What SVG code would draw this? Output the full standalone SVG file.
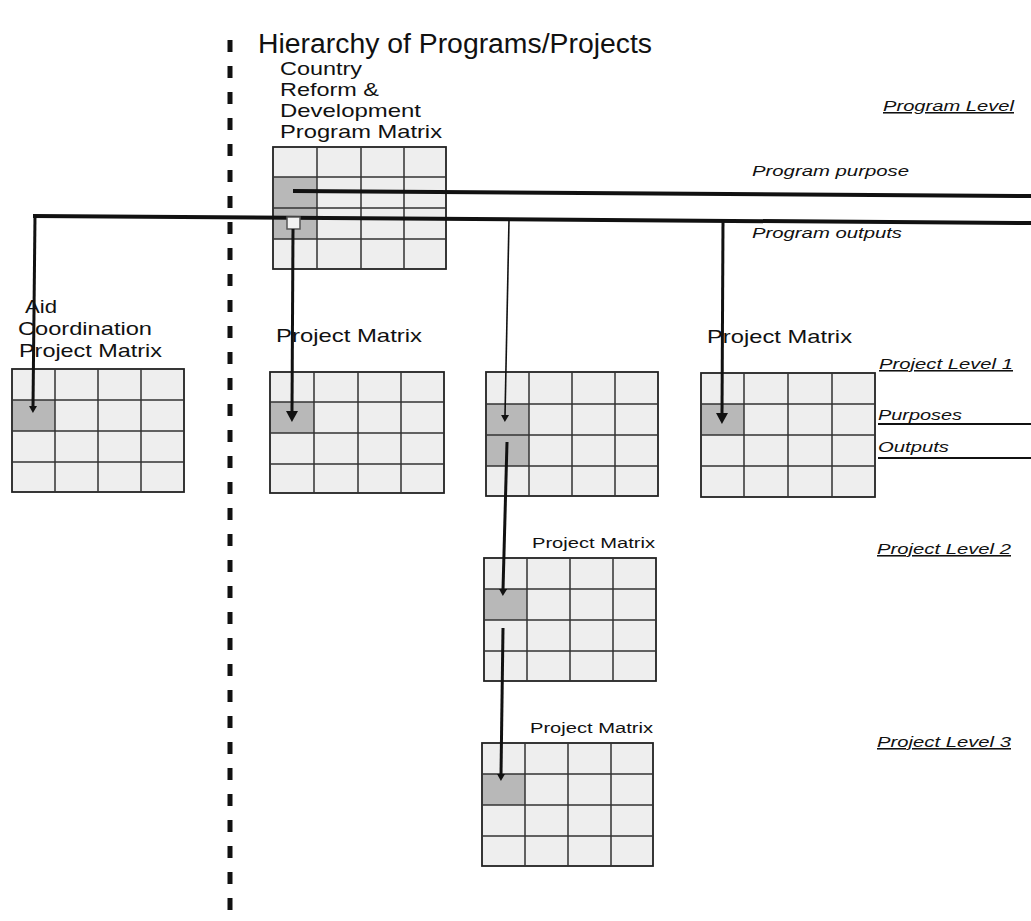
<svg xmlns="http://www.w3.org/2000/svg" width="1031" height="921" viewBox="0 0 1031 921">
<style>
.bg{fill:#ffffff}
.cell{fill:#eeeeee;stroke:#222;stroke-width:1.8}
.shade{fill:#b8b8b8}
.grid{fill:none;stroke:#333;stroke-width:1.5}
.t{font-family:"Liberation Sans",Arial,sans-serif;fill:#111}
.big{font-size:18.5px}
.small{font-size:15.5px}
.it{font-family:"Liberation Sans",Arial,sans-serif;font-style:italic;font-size:15.5px;fill:#111}
.ul{text-decoration:underline}
.thick{stroke:#111;stroke-width:4;fill:none}
.med{stroke:#111;stroke-width:3;fill:none}
.thin{stroke:#111;stroke-width:1.6;fill:none}
.dash{stroke:#111;stroke-width:5;stroke-dasharray:12 14;fill:none}
</style>
<defs>
<marker id="bigArrow" markerUnits="userSpaceOnUse" markerWidth="12" markerHeight="12" refX="1" refY="6" orient="auto">
<path d="M0,0 L11,6 L0,12 z" fill="#111"/>
</marker>
<marker id="smallArrow" markerUnits="userSpaceOnUse" markerWidth="8" markerHeight="8" refX="1" refY="4" orient="auto">
<path d="M0,0 L7,4 L0,8 z" fill="#111"/>
</marker>
</defs>
<rect class="bg" x="0" y="0" width="1031" height="921"/>

<text class="t" x="258" y="53" font-size="27" textLength="394" lengthAdjust="spacingAndGlyphs">Hierarchy of Programs/Projects</text>

<line id="divider" class="dash" x1="230" y1="40" x2="230" y2="915"/>

<g id="program-matrix">
<rect class="cell" x="273" y="147" width="173" height="122"/>
<rect class="shade" x="274" y="177" width="43" height="62"/>
<path class="grid" d="M317,147V269M361,147V269M404,147V269M273,177H446M273,208H446M273,239H446"/>
<text class="t big" x="280" y="75" textLength="82" lengthAdjust="spacingAndGlyphs">Country</text>
<text class="t big" x="280" y="96" textLength="99" lengthAdjust="spacingAndGlyphs">Reform &amp;</text>
<text class="t big" x="280" y="117" textLength="141" lengthAdjust="spacingAndGlyphs">Development</text>
<text class="t big" x="280" y="138" textLength="162" lengthAdjust="spacingAndGlyphs">Program Matrix</text>
</g>

<g id="aid-matrix">
<rect class="cell" x="12" y="369" width="172" height="123"/>
<rect class="shade" x="13" y="400" width="42" height="31"/>
<path class="grid" d="M55,369V492M98,369V492M141,369V492M12,400H184M12,431H184M12,462H184"/>
<text class="t big" x="25" y="313" textLength="32" lengthAdjust="spacingAndGlyphs">Aid</text>
<text class="t big" x="18" y="335" textLength="134" lengthAdjust="spacingAndGlyphs">Coordination</text>
<text class="t big" x="19" y="357" textLength="143" lengthAdjust="spacingAndGlyphs">Project Matrix</text>
</g>

<g id="project-matrix-1">
<rect class="cell" x="270" y="372" width="174" height="121"/>
<rect class="shade" x="271" y="402" width="43" height="31"/>
<path class="grid" d="M314,372V493M358,372V493M401,372V493M270,402H444M270,433H444M270,464H444"/>
<text class="t big" x="276" y="342" textLength="146" lengthAdjust="spacingAndGlyphs">Project Matrix</text>
</g>

<g id="project-matrix-2">
<rect class="cell" x="486" y="372" width="172" height="124"/>
<rect class="shade" x="487" y="404" width="42" height="62"/>
<path class="grid" d="M529,372V496M572,372V496M615,372V496M486,404H658M486,435H658M486,466H658"/>
</g>

<g id="project-matrix-3">
<rect class="cell" x="701" y="373" width="174" height="124"/>
<rect class="shade" x="702" y="404" width="42" height="31"/>
<path class="grid" d="M744,373V497M788,373V497M832,373V497M701,404H875M701,435H875M701,466H875"/>
<text class="t big" x="707" y="343" textLength="145" lengthAdjust="spacingAndGlyphs">Project Matrix</text>
</g>

<g id="level2-matrix">
<rect class="cell" x="484" y="558" width="172" height="123"/>
<rect class="shade" x="485" y="589" width="42" height="31"/>
<path class="grid" d="M527,558V681M570,558V681M613,558V681M484,589H656M484,620H656M484,651H656"/>
<text class="t small" x="532" y="548" textLength="123" lengthAdjust="spacingAndGlyphs">Project Matrix</text>
</g>

<g id="level3-matrix">
<rect class="cell" x="482" y="743" width="171" height="123"/>
<rect class="shade" x="483" y="774" width="42" height="31"/>
<path class="grid" d="M525,743V866M568,743V866M611,743V866M482,774H653M482,805H653M482,836H653"/>
<text class="t small" x="530" y="733" textLength="123" lengthAdjust="spacingAndGlyphs">Project Matrix</text>
</g>

<g id="connectors">
<line class="thick" x1="293" y1="191" x2="1031" y2="196"/>
<line class="thick" x1="33" y1="216" x2="1031" y2="223"/>
<line class="med" x1="35" y1="216" x2="33" y2="407" stroke-width="2.5" marker-end="url(#smallArrow)"/>
<rect x="287" y="217" width="13" height="12" fill="#f2f2f2" stroke="#555" stroke-width="1.5"/>
<line class="med" x1="293" y1="229" x2="292" y2="412" marker-end="url(#bigArrow)"/>
<line class="thin" x1="509" y1="220" x2="505" y2="416" marker-end="url(#smallArrow)"/>
<line class="med" x1="723" y1="221" x2="722" y2="414" marker-end="url(#bigArrow)"/>
<line class="med" x1="507" y1="442" x2="503" y2="590" stroke-width="2.5" marker-end="url(#smallArrow)"/>
<line class="med" x1="503" y1="628" x2="501" y2="775" stroke-width="2.5" marker-end="url(#smallArrow)"/>
</g>

<g id="level-labels">
<text class="it ul" x="883" y="111" textLength="131" lengthAdjust="spacingAndGlyphs">Program Level</text>
<text class="it" x="752" y="176" textLength="157" lengthAdjust="spacingAndGlyphs">Program purpose</text>
<text class="it" x="752" y="238" textLength="150" lengthAdjust="spacingAndGlyphs">Program outputs</text>
<text class="it ul" x="879" y="369" textLength="134" lengthAdjust="spacingAndGlyphs">Project Level 1</text>
<text class="it" x="878" y="420" textLength="84" lengthAdjust="spacingAndGlyphs">Purposes</text>
<line x1="878" y1="424" x2="1031" y2="424" stroke="#111" stroke-width="2"/>
<text class="it" x="878" y="452" textLength="71" lengthAdjust="spacingAndGlyphs">Outputs</text>
<line x1="878" y1="458" x2="1031" y2="458" stroke="#111" stroke-width="2"/>
<text class="it ul" x="877" y="554" textLength="134" lengthAdjust="spacingAndGlyphs">Project Level 2</text>
<text class="it ul" x="877" y="747" textLength="134" lengthAdjust="spacingAndGlyphs">Project Level 3</text>
</g>
</svg>
